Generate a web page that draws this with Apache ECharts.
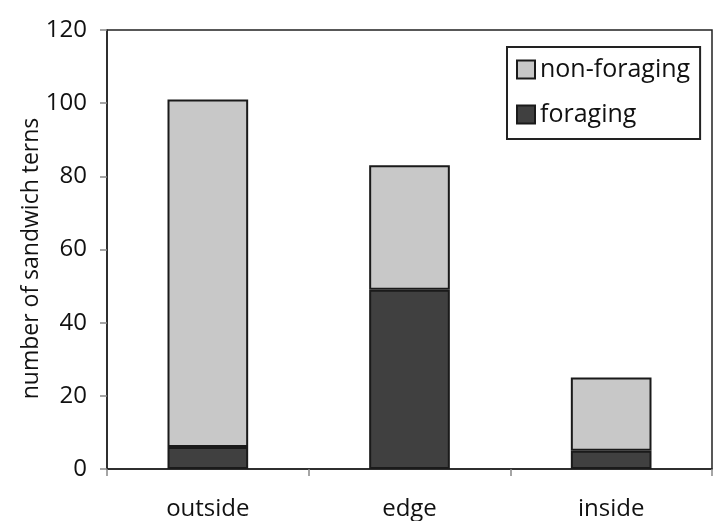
<!DOCTYPE html>
<html><head><meta charset="utf-8">
<script src="https://cdn.jsdelivr.net/npm/echarts@6/dist/echarts.min.js"></script>
<style>html,body{margin:0;padding:0;background:#fff}#c{width:720px;height:521px}</style>
</head><body><div id="c"></div>
<script>
const categories = ['outside', 'edge', 'inside'];
const foraging = [6, 49, 5];
const nonForaging = [95, 34, 20];
const yTicks = [0, 20, 40, 60, 80, 100, 120];

const FONT = '"Open Sans", "DejaVu Sans", sans-serif';
const chart = echarts.init(document.getElementById('c'));
chart.setOption({
  animation: false,
  backgroundColor: '#fff',
  grid: { left: 107, right: 8, top: 30, bottom: 52, show: true, borderColor: '#222', borderWidth: 1.5, backgroundColor: 'transparent' },
  legend: {
    orient: 'vertical', left: 507, top: 47,
    data: ['non-foraging', 'foraging'],
    icon: 'rect', itemWidth: 18, itemHeight: 18, itemGap: 18,
    padding: [9, 10, 11, 9],
    borderColor: '#222', borderWidth: 2, backgroundColor: '#fff',
    textStyle: { fontFamily: FONT, fontSize: 25, lineHeight: 27, color: '#111', padding: [0, 0, 0, 0] }
  },
  xAxis: {
    type: 'category', data: categories,
    axisLine: { lineStyle: { color: '#222', width: 1.5 } },
    axisTick: { show: true, length: 7, lineStyle: { color: '#888', width: 1.5 } },
    axisLabel: { fontFamily: FONT, fontSize: 24, color: '#111', margin: 28 }
  },
  yAxis: {
    type: 'value', min: 0, max: 120, interval: 20,
    name: 'number of sandwich terns', nameLocation: 'middle', nameGap: 64, nameMoveOverlap: false,
    nameTextStyle: { fontFamily: FONT, fontSize: 23, color: '#111', padding: [0, 18, 0, 0] },
    axisLine: { show: true, lineStyle: { color: '#222', width: 1.5 } },
    axisTick: { show: true, length: 7, lineStyle: { color: '#888', width: 1.5 } },
    splitLine: { show: false },
    axisLabel: { fontFamily: FONT, fontSize: 24, color: '#111', margin: 20,
      formatter: v => yTicks.includes(v) ? String(v) : '' }
  },
  series: [
    { name: 'foraging', type: 'bar', stack: 's', data: foraging, barWidth: '40%',
      itemStyle: { color: '#404040', borderColor: '#1a1a1a', borderWidth: 2 } },
    { name: 'non-foraging', type: 'bar', stack: 's', data: nonForaging, barWidth: '40%',
      itemStyle: { color: '#c8c8c8', borderColor: '#1a1a1a', borderWidth: 2 } }
  ]
});
</script></body></html>
